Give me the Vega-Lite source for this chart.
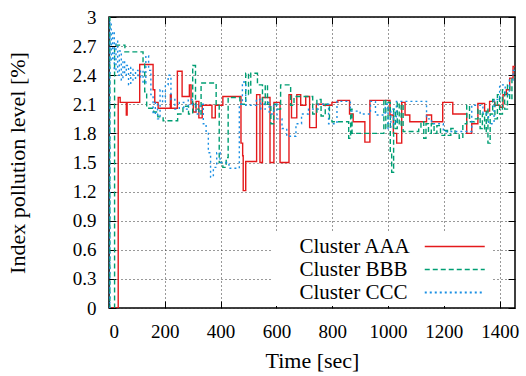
{
  "$schema": "https://vega.github.io/schema/vega-lite/v6.json",
  "width": 406,
  "height": 291,
  "autosize": "none",
  "padding": {"left": 109, "top": 17, "right": 11, "bottom": 68},
  "background": "white",
  "config": {
    "view": {"stroke": "#000", "strokeWidth": 1.5},
    "font": "Liberation Serif",
    "axis": {
      "labelFont": "Liberation Serif", "titleFont": "Liberation Serif",
      "labelFontSize": 19, "titleFontSize": 22, "labelColor": "#000", "titleColor": "#000",
      "titleFontWeight": "normal", "domain": false, "tickColor": "#000", "tickWidth": 1,
      "gridColor": "#333", "gridDash": [1, 3], "gridWidth": 1
    }
  },
  "data": {"values": [
    {"s":"Cluster AAA","t":0,"v":0},{"s":"Cluster AAA","t":33,"v":2.17},{"s":"Cluster AAA","t":40,"v":2.12},{"s":"Cluster AAA","t":62,"v":1.99},{"s":"Cluster AAA","t":65,"v":2.12},{"s":"Cluster AAA","t":110,"v":2.51},{"s":"Cluster AAA","t":158,"v":2.25},{"s":"Cluster AAA","t":164,"v":2.12},{"s":"Cluster AAA","t":176,"v":2.06},{"s":"Cluster AAA","t":220,"v":2.2},{"s":"Cluster AAA","t":223,"v":2.06},{"s":"Cluster AAA","t":245,"v":2.44},{"s":"Cluster AAA","t":262,"v":2.18},{"s":"Cluster AAA","t":288,"v":2.3},{"s":"Cluster AAA","t":294,"v":2.11},{"s":"Cluster AAA","t":302,"v":2.02},{"s":"Cluster AAA","t":312,"v":2.13},{"s":"Cluster AAA","t":322,"v":1.96},{"s":"Cluster AAA","t":334,"v":2.09},{"s":"Cluster AAA","t":369,"v":1.96},{"s":"Cluster AAA","t":381,"v":2.09},{"s":"Cluster AAA","t":408,"v":2.18},{"s":"Cluster AAA","t":473,"v":1.7},{"s":"Cluster AAA","t":479,"v":1.57},{"s":"Cluster AAA","t":481,"v":1.21},{"s":"Cluster AAA","t":490,"v":1.51},{"s":"Cluster AAA","t":529,"v":2.2},{"s":"Cluster AAA","t":541,"v":1.5},{"s":"Cluster AAA","t":550,"v":2.17},{"s":"Cluster AAA","t":577,"v":1.5},{"s":"Cluster AAA","t":591,"v":2.12},{"s":"Cluster AAA","t":613,"v":1.5},{"s":"Cluster AAA","t":645,"v":2.2},{"s":"Cluster AAA","t":654,"v":1.96},{"s":"Cluster AAA","t":673,"v":2.2},{"s":"Cluster AAA","t":687,"v":2.09},{"s":"Cluster AAA","t":705,"v":2.18},{"s":"Cluster AAA","t":719,"v":1.86},{"s":"Cluster AAA","t":743,"v":2.1},{"s":"Cluster AAA","t":769,"v":2.09},{"s":"Cluster AAA","t":799,"v":2.12},{"s":"Cluster AAA","t":820,"v":2.14},{"s":"Cluster AAA","t":862,"v":2.0},{"s":"Cluster AAA","t":875,"v":1.92},{"s":"Cluster AAA","t":917,"v":1.71},{"s":"Cluster AAA","t":935,"v":2.14},{"s":"Cluster AAA","t":1007,"v":1.99},{"s":"Cluster AAA","t":1019,"v":1.8},{"s":"Cluster AAA","t":1031,"v":1.7},{"s":"Cluster AAA","t":1049,"v":2.12},{"s":"Cluster AAA","t":1061,"v":1.99},{"s":"Cluster AAA","t":1078,"v":1.92},{"s":"Cluster AAA","t":1138,"v":1.99},{"s":"Cluster AAA","t":1156,"v":1.92},{"s":"Cluster AAA","t":1196,"v":2.12},{"s":"Cluster AAA","t":1232,"v":2.0},{"s":"Cluster AAA","t":1282,"v":1.8},{"s":"Cluster AAA","t":1300,"v":1.9},{"s":"Cluster AAA","t":1322,"v":2.11},{"s":"Cluster AAA","t":1346,"v":2.03},{"s":"Cluster AAA","t":1364,"v":2.13},{"s":"Cluster AAA","t":1382,"v":2.09},{"s":"Cluster AAA","t":1400,"v":2.07},{"s":"Cluster AAA","t":1412,"v":2.2},{"s":"Cluster AAA","t":1424,"v":2.25},{"s":"Cluster AAA","t":1436,"v":2.37},{"s":"Cluster AAA","t":1448,"v":2.49},{"s":"Cluster AAA","t":1455,"v":2.49},
    {"s":"Cluster BBB","t":0,"v":3.0},{"s":"Cluster BBB","t":3,"v":0},{"s":"Cluster BBB","t":20,"v":2.71},{"s":"Cluster BBB","t":57,"v":2.64},{"s":"Cluster BBB","t":122,"v":2.54},{"s":"Cluster BBB","t":128,"v":2.23},{"s":"Cluster BBB","t":135,"v":2.06},{"s":"Cluster BBB","t":160,"v":2.02},{"s":"Cluster BBB","t":175,"v":1.97},{"s":"Cluster BBB","t":194,"v":1.93},{"s":"Cluster BBB","t":246,"v":2.0},{"s":"Cluster BBB","t":265,"v":2.08},{"s":"Cluster BBB","t":285,"v":2.0},{"s":"Cluster BBB","t":300,"v":2.5},{"s":"Cluster BBB","t":310,"v":2.05},{"s":"Cluster BBB","t":322,"v":2.0},{"s":"Cluster BBB","t":330,"v":2.32},{"s":"Cluster BBB","t":384,"v":2.09},{"s":"Cluster BBB","t":395,"v":1.5},{"s":"Cluster BBB","t":408,"v":1.45},{"s":"Cluster BBB","t":420,"v":1.55},{"s":"Cluster BBB","t":427,"v":2.17},{"s":"Cluster BBB","t":469,"v":2.1},{"s":"Cluster BBB","t":490,"v":2.42},{"s":"Cluster BBB","t":500,"v":2.2},{"s":"Cluster BBB","t":508,"v":2.42},{"s":"Cluster BBB","t":532,"v":2.3},{"s":"Cluster BBB","t":550,"v":2.1},{"s":"Cluster BBB","t":560,"v":2.3},{"s":"Cluster BBB","t":568,"v":2.1},{"s":"Cluster BBB","t":580,"v":1.9},{"s":"Cluster BBB","t":590,"v":2.1},{"s":"Cluster BBB","t":600,"v":2.05},{"s":"Cluster BBB","t":615,"v":2.3},{"s":"Cluster BBB","t":651,"v":2.09},{"s":"Cluster BBB","t":663,"v":2.18},{"s":"Cluster BBB","t":715,"v":2.18},{"s":"Cluster BBB","t":730,"v":2.0},{"s":"Cluster BBB","t":745,"v":2.15},{"s":"Cluster BBB","t":760,"v":1.98},{"s":"Cluster BBB","t":775,"v":2.1},{"s":"Cluster BBB","t":790,"v":1.95},{"s":"Cluster BBB","t":799,"v":1.92},{"s":"Cluster BBB","t":855,"v":1.92},{"s":"Cluster BBB","t":859,"v":1.75},{"s":"Cluster BBB","t":866,"v":2.05},{"s":"Cluster BBB","t":871,"v":1.8},{"s":"Cluster BBB","t":985,"v":2.15},{"s":"Cluster BBB","t":992,"v":1.85},{"s":"Cluster BBB","t":1000,"v":2.12},{"s":"Cluster BBB","t":1008,"v":1.6},{"s":"Cluster BBB","t":1013,"v":1.4},{"s":"Cluster BBB","t":1020,"v":2.05},{"s":"Cluster BBB","t":1026,"v":1.85},{"s":"Cluster BBB","t":1033,"v":2.12},{"s":"Cluster BBB","t":1040,"v":1.88},{"s":"Cluster BBB","t":1047,"v":2.1},{"s":"Cluster BBB","t":1054,"v":1.82},{"s":"Cluster BBB","t":1110,"v":1.85},{"s":"Cluster BBB","t":1118,"v":1.92},{"s":"Cluster BBB","t":1128,"v":1.75},{"s":"Cluster BBB","t":1136,"v":1.9},{"s":"Cluster BBB","t":1145,"v":1.8},{"s":"Cluster BBB","t":1155,"v":1.9},{"s":"Cluster BBB","t":1165,"v":1.8},{"s":"Cluster BBB","t":1175,"v":1.88},{"s":"Cluster BBB","t":1188,"v":1.78},{"s":"Cluster BBB","t":1203,"v":1.83},{"s":"Cluster BBB","t":1213,"v":1.78},{"s":"Cluster BBB","t":1225,"v":1.85},{"s":"Cluster BBB","t":1240,"v":1.8},{"s":"Cluster BBB","t":1255,"v":1.75},{"s":"Cluster BBB","t":1268,"v":1.9},{"s":"Cluster BBB","t":1282,"v":2.09},{"s":"Cluster BBB","t":1292,"v":1.92},{"s":"Cluster BBB","t":1310,"v":1.95},{"s":"Cluster BBB","t":1322,"v":2.05},{"s":"Cluster BBB","t":1330,"v":1.85},{"s":"Cluster BBB","t":1338,"v":2.0},{"s":"Cluster BBB","t":1346,"v":1.82},{"s":"Cluster BBB","t":1352,"v":2.05},{"s":"Cluster BBB","t":1358,"v":1.7},{"s":"Cluster BBB","t":1366,"v":2.0},{"s":"Cluster BBB","t":1375,"v":2.15},{"s":"Cluster BBB","t":1383,"v":1.95},{"s":"Cluster BBB","t":1392,"v":2.2},{"s":"Cluster BBB","t":1400,"v":2.0},{"s":"Cluster BBB","t":1410,"v":2.25},{"s":"Cluster BBB","t":1418,"v":2.05},{"s":"Cluster BBB","t":1428,"v":2.3},{"s":"Cluster BBB","t":1436,"v":2.15},{"s":"Cluster BBB","t":1444,"v":2.38},{"s":"Cluster BBB","t":1455,"v":2.38},
    {"s":"Cluster CCC","t":0,"v":0},{"s":"Cluster CCC","t":3,"v":2.95},{"s":"Cluster CCC","t":8,"v":2.55},{"s":"Cluster CCC","t":13,"v":2.85},{"s":"Cluster CCC","t":19,"v":2.45},{"s":"Cluster CCC","t":25,"v":2.75},{"s":"Cluster CCC","t":31,"v":2.4},{"s":"Cluster CCC","t":37,"v":2.65},{"s":"Cluster CCC","t":44,"v":2.35},{"s":"Cluster CCC","t":50,"v":2.55},{"s":"Cluster CCC","t":56,"v":2.4},{"s":"Cluster CCC","t":62,"v":2.5},{"s":"Cluster CCC","t":70,"v":2.3},{"s":"Cluster CCC","t":78,"v":2.48},{"s":"Cluster CCC","t":86,"v":2.35},{"s":"Cluster CCC","t":95,"v":2.45},{"s":"Cluster CCC","t":104,"v":2.38},{"s":"Cluster CCC","t":113,"v":2.45},{"s":"Cluster CCC","t":122,"v":2.32},{"s":"Cluster CCC","t":132,"v":2.6},{"s":"Cluster CCC","t":142,"v":2.45},{"s":"Cluster CCC","t":150,"v":2.2},{"s":"Cluster CCC","t":158,"v":2.0},{"s":"Cluster CCC","t":166,"v":2.12},{"s":"Cluster CCC","t":174,"v":1.95},{"s":"Cluster CCC","t":183,"v":2.25},{"s":"Cluster CCC","t":192,"v":2.12},{"s":"Cluster CCC","t":202,"v":2.3},{"s":"Cluster CCC","t":212,"v":2.4},{"s":"Cluster CCC","t":222,"v":2.15},{"s":"Cluster CCC","t":236,"v":2.05},{"s":"Cluster CCC","t":252,"v":2.12},{"s":"Cluster CCC","t":268,"v":2.05},{"s":"Cluster CCC","t":284,"v":2.15},{"s":"Cluster CCC","t":298,"v":2.1},{"s":"Cluster CCC","t":312,"v":2.0},{"s":"Cluster CCC","t":326,"v":2.1},{"s":"Cluster CCC","t":338,"v":1.9},{"s":"Cluster CCC","t":348,"v":1.8},{"s":"Cluster CCC","t":356,"v":1.6},{"s":"Cluster CCC","t":364,"v":1.35},{"s":"Cluster CCC","t":374,"v":1.45},{"s":"Cluster CCC","t":386,"v":1.6},{"s":"Cluster CCC","t":398,"v":1.5},{"s":"Cluster CCC","t":430,"v":1.44},{"s":"Cluster CCC","t":467,"v":2.1},{"s":"Cluster CCC","t":478,"v":2.33},{"s":"Cluster CCC","t":490,"v":2.09},{"s":"Cluster CCC","t":528,"v":2.15},{"s":"Cluster CCC","t":544,"v":2.05},{"s":"Cluster CCC","t":560,"v":2.12},{"s":"Cluster CCC","t":574,"v":2.0},{"s":"Cluster CCC","t":590,"v":2.1},{"s":"Cluster CCC","t":602,"v":1.95},{"s":"Cluster CCC","t":620,"v":1.85},{"s":"Cluster CCC","t":637,"v":1.77},{"s":"Cluster CCC","t":670,"v":1.9},{"s":"Cluster CCC","t":690,"v":2.0},{"s":"Cluster CCC","t":715,"v":2.05},{"s":"Cluster CCC","t":750,"v":2.1},{"s":"Cluster CCC","t":787,"v":1.9},{"s":"Cluster CCC","t":817,"v":2.13},{"s":"Cluster CCC","t":865,"v":2.03},{"s":"Cluster CCC","t":900,"v":2.0},{"s":"Cluster CCC","t":937,"v":2.13},{"s":"Cluster CCC","t":955,"v":1.99},{"s":"Cluster CCC","t":990,"v":2.1},{"s":"Cluster CCC","t":1000,"v":1.85},{"s":"Cluster CCC","t":1010,"v":2.05},{"s":"Cluster CCC","t":1020,"v":1.9},{"s":"Cluster CCC","t":1030,"v":2.13},{"s":"Cluster CCC","t":1138,"v":1.95},{"s":"Cluster CCC","t":1156,"v":1.9},{"s":"Cluster CCC","t":1198,"v":1.82},{"s":"Cluster CCC","t":1300,"v":2.09},{"s":"Cluster CCC","t":1340,"v":2.0},{"s":"Cluster CCC","t":1360,"v":1.9},{"s":"Cluster CCC","t":1380,"v":2.15},{"s":"Cluster CCC","t":1400,"v":2.3},{"s":"Cluster CCC","t":1420,"v":2.2},{"s":"Cluster CCC","t":1435,"v":2.35},{"s":"Cluster CCC","t":1448,"v":2.45},{"s":"Cluster CCC","t":1455,"v":2.45}
  ]},
  "layer": [
    {
      "mark": {"type": "line", "interpolate": "step-after", "clip": true, "strokeWidth": 1.4},
      "encoding": {
        "x": {"field": "t", "type": "quantitative", "scale": {"domain": [0, 1455], "nice": false, "zero": false},
              "axis": {"title": "Time [sec]", "values": [0,200,400,600,800,1000,1200,1400], "format": "d", "grid": true, "offset": -7, "tickSize": 7, "labelPadding": 14, "titlePadding": 9}},
        "y": {"field": "v", "type": "quantitative", "scale": {"domain": [0, 3], "nice": false},
              "axis": {"title": "Index pollution level [%]", "values": [0,0.3,0.6,0.9,1.2,1.5,1.8,2.1,2.4,2.7,3], "format": ".1~f", "grid": true, "offset": -7, "tickSize": 7, "labelPadding": 13, "titlePadding": 43}},
        "color": {"field": "s", "type": "nominal", "scale": {"domain": ["Cluster AAA","Cluster BBB","Cluster CCC"], "range": ["#e41a1c","#009e73","#1a8fe3"]},
                  "legend": {"title": null, "orient": "none", "legendX": 163, "legendY": 216, "fillColor": "white", "padding": 3, "labelFont": "Liberation Serif", "labelFontSize": 21, "labelColor": "#000", "symbolType": "M-6,0H6", "symbolSize": 100, "symbolStrokeWidth": 1.5, "symbolOffset": 169.25, "labelOffset": -165.75, "labelAlign": "left", "rowPadding": 1, "labelLimit": 300}},
        "strokeDash": {"field": "s", "type": "nominal", "scale": {"domain": ["Cluster AAA","Cluster BBB","Cluster CCC"], "range": [[1,0],[5,3],[2,3]]}},
        "strokeWidth": {"field": "s", "type": "nominal", "scale": {"domain": ["Cluster AAA","Cluster BBB","Cluster CCC"], "range": [1.3,1.8,1.8]}, "legend": null}
      }
    },
    {
      "mark": {"type": "line", "opacity": 0},
      "encoding": {
        "x": {"field": "t", "type": "quantitative", "axis": {"orient": "top", "title": null, "labels": false, "grid": false, "values": [0,200,400,600,800,1000,1200,1400], "offset": -7, "tickSize": 7}},
        "y": {"field": "v", "type": "quantitative", "axis": {"orient": "right", "title": null, "labels": false, "grid": false, "values": [0,0.3,0.6,0.9,1.2,1.5,1.8,2.1,2.4,2.7,3], "offset": -7, "tickSize": 7}},
        "detail": {"field": "s"}
      }
    }
  ],
  "resolve": {"axis": {"x": "independent", "y": "independent"}}
}
